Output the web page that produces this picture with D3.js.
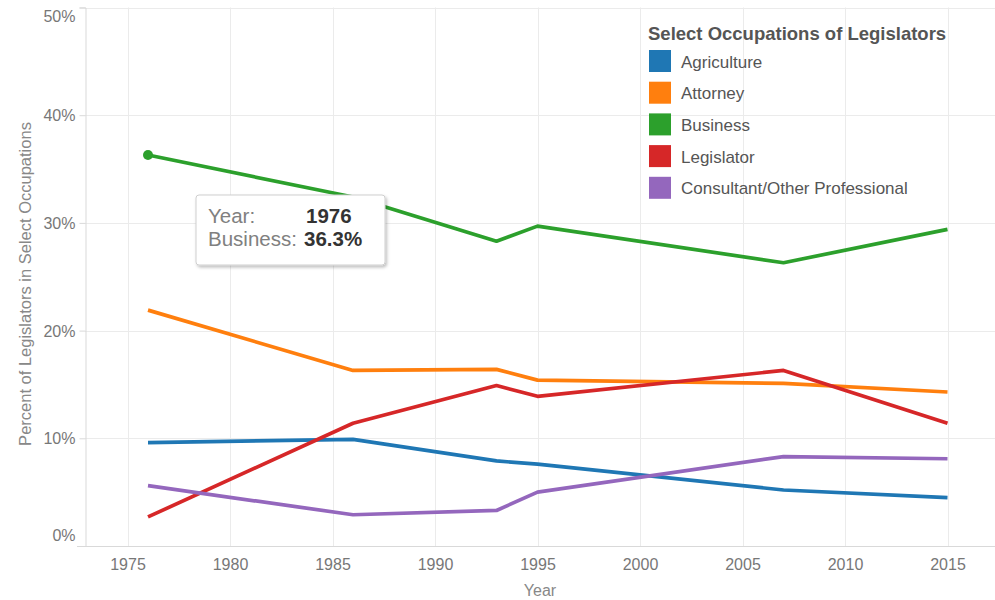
<!doctype html>
<html lang="en">
<head>
  <meta charset="utf-8">
  <script src="https://d3js.org/d3.v7.min.js"></script>
  <style>
    body { margin: 0; background: #fff; font-family: "Liberation Sans", Arial, sans-serif; }
  </style>
</head>
<body>
  <script>
    var width = 995,
        height = 600;

    // data (percent)
    var years = [1976, 1986, 1993, 1995, 2007, 2015];
    var occupations = ["Agriculture", "Attorney", "Business", "Legislator", "Consultant/Other Professional"];
    var colors = ["#1f77b4", "#ff7f0e", "#2ca02c", "#d62728", "#9467bd"];
    var agriculture = [9.6, 9.9, 7.9, 7.6, 5.2, 4.5];
    var attorney    = [21.9, 16.3, 16.4, 15.4, 15.1, 14.3];
    var business    = [36.3, 32.4, 28.3, 29.7, 26.3, 29.4];
    var legislator  = [2.7, 11.4, 14.9, 13.9, 16.3, 11.4];
    var consultant  = [5.6, 2.9, 3.3, 5.0, 8.3, 8.1];
    var yTicks = [0, 10, 20, 30, 40, 50];
    var xTicks = [1975, 1980, 1985, 1990, 1995, 2000, 2005, 2010, 2015];

    var seriesValues = [agriculture, attorney, business, legislator, consultant];

    // plot box (note: "top" is reserved on window, so use other names)
    var plotLeft = 85, plotRight = 995, plotTop = 7.5, plotBottom = 546;

    var x = d3.scaleLinear().domain([1975, 2015]).range([127.5, 947.5]);
    var y = d3.scaleLinear().domain([0, 50]).range([plotBottom, plotTop]);

    var svg = d3.select("body").append("svg")
        .attr("width", width)
        .attr("height", height)
        .style("display", "block");

    // gridlines
    svg.append("g").selectAll("line")
        .data(yTicks.slice(1))
      .enter().append("line")
        .attr("x1", plotLeft).attr("x2", plotRight)
        .attr("y1", function(d) { return Math.round(y(d)) + 0.5; })
        .attr("y2", function(d) { return Math.round(y(d)) + 0.5; })
        .style("stroke", "#ebebeb").style("stroke-width", 1);

    svg.append("g").selectAll("line")
        .data(xTicks)
      .enter().append("line")
        .attr("x1", function(d) { return Math.round(x(d)) + 0.5; })
        .attr("x2", function(d) { return Math.round(x(d)) + 0.5; })
        .attr("y1", plotTop).attr("y2", plotBottom)
        .style("stroke", "#ebebeb").style("stroke-width", 1);

    // y axis
    var yAxis = d3.axisLeft(y).tickValues(yTicks).tickSize(6).tickPadding(4)
        .tickFormat(function(d) { return d + "%"; });
    var gy = svg.append("g").attr("transform", "translate(" + (plotLeft + 0.5) + ",0)").call(yAxis);
    gy.select(".domain").style("stroke", "#d9d9d9");
    gy.selectAll(".tick line").style("stroke", "#d9d9d9");
    gy.selectAll(".tick text")
        .style("font-family", "'Liberation Sans', Arial, sans-serif")
        .style("font-size", "16px")
        .style("fill", "#777")
        .attr("dy", function(d) { return d === 50 ? "0.9em" : d === 0 ? "-0.35em" : "0.35em"; });

    // x axis
    var xAxis = d3.axisBottom(x).tickValues(xTicks).tickSize(0).tickPadding(13)
        .tickFormat(d3.format("d"));
    var gx = svg.append("g").attr("transform", "translate(0," + plotBottom + ")").call(xAxis);
    gx.select(".domain").remove();
    gx.append("line").attr("x1", 77).attr("x2", plotRight).attr("y1", 0.5).attr("y2", 0.5)
        .style("stroke", "#d9d9d9");
    gx.selectAll(".tick text")
        .style("font-family", "'Liberation Sans', Arial, sans-serif")
        .style("font-size", "16px")
        .style("fill", "#777");

    // axis titles
    svg.append("text")
        .attr("transform", "translate(31,284) rotate(-90)")
        .attr("text-anchor", "middle")
        .style("font-size", "16.5px")
        .style("fill", "#888")
        .text("Percent of Legislators in Select Occupations");

    svg.append("text")
        .attr("x", 540).attr("y", 596)
        .attr("text-anchor", "middle")
        .style("font-size", "16px")
        .style("fill", "#888")
        .text("Year");

    // lines
    var line = d3.line()
        .x(function(d, i) { return x(years[i]); })
        .y(function(d) { return y(d); });

    svg.append("g").selectAll("path")
        .data(seriesValues)
      .enter().append("path")
        .attr("d", line)
        .style("fill", "none")
        .style("stroke", function(d, i) { return colors[i]; })
        .style("stroke-width", 3.7)
        .style("stroke-linejoin", "round");

    // highlighted point
    svg.append("circle")
        .attr("cx", x(years[0])).attr("cy", y(business[0]))
        .attr("r", 5)
        .style("fill", colors[2]);

    // tooltip
    var defs = svg.append("defs");
    var f = defs.append("filter").attr("id", "shadow").attr("x", "-10%").attr("y", "-10%")
        .attr("width", "130%").attr("height", "140%");
    f.append("feDropShadow").attr("dx", 1.5).attr("dy", 2).attr("stdDeviation", 1.8)
        .attr("flood-color", "#000").attr("flood-opacity", 0.25);

    var tip = svg.append("g").attr("transform", "translate(196,195)");
    tip.append("rect")
        .attr("width", 189).attr("height", 70)
        .attr("rx", 3)
        .style("fill", "#fff")
        .style("stroke", "#cfcfcf")
        .attr("filter", "url(#shadow)");
    tip.append("text").attr("x", 12).attr("y", 28)
        .style("font-size", "20.5px").style("fill", "#808080").text("Year:");
    tip.append("text").attr("x", 12).attr("y", 51)
        .style("font-size", "20.5px").style("fill", "#808080").text("Business:");
    tip.append("text").attr("x", 110).attr("y", 28)
        .style("font-size", "20.5px").style("font-weight", "bold").style("fill", "#333")
        .text(years[0]);
    tip.append("text").attr("x", 108).attr("y", 51)
        .style("font-size", "20.5px").style("font-weight", "bold").style("fill", "#333")
        .text(business[0].toFixed(1) + "%");

    // legend
    var legend = svg.append("g").attr("transform", "translate(648,0)");
    legend.append("text")
        .attr("x", 0).attr("y", 40)
        .style("font-size", "18.5px")
        .style("font-weight", "bold")
        .style("fill", "#555")
        .text("Select Occupations of Legislators");

    var items = legend.selectAll("g.item")
        .data(occupations)
      .enter().append("g")
        .attr("class", "item")
        .attr("transform", function(d, i) { return "translate(1," + (50 + i * 31.7) + ")"; });
    items.append("rect")
        .attr("width", 22).attr("height", 22)
        .style("fill", function(d, i) { return colors[i]; });
    items.append("text")
        .attr("x", 32).attr("y", 17.5)
        .style("font-size", "17px")
        .style("fill", "#555")
        .text(function(d) { return d; });
  </script>
</body>
</html>
